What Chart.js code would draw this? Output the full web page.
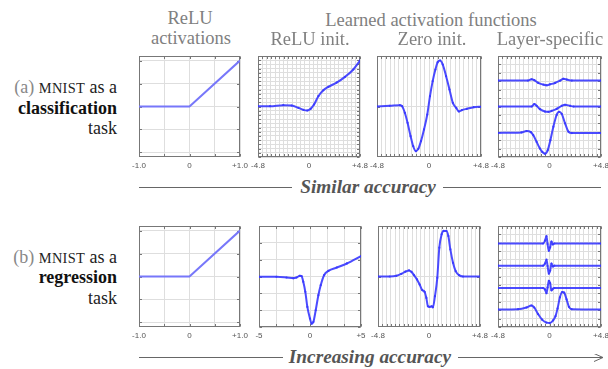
<!DOCTYPE html>
<html>
<head>
<meta charset="utf-8">
<script src="https://cdn.jsdelivr.net/npm/chart.js@4.4.1/dist/chart.umd.min.js"></script>
<style>
body { margin: 0; width: 608px; height: 369px; background: #fff; position: relative; overflow: hidden; }
.t { position: absolute; white-space: nowrap; line-height: 1; font-family: "Liberation Serif", "Times New Roman", serif; }
canvas { position: absolute; }
svg { position: absolute; left: 0; top: 0; }
.sc { font-size: 0.8em; letter-spacing: 0.02em; }
</style>
</head>
<body>
<svg width="608" height="369">
    <defs>
        <marker id="arr" markerWidth="10" markerHeight="8" refX="9" refY="4" orient="auto" markerUnits="userSpaceOnUse">
            <path d="M0,0 L9,4 L0,8" fill="none" stroke="#666" stroke-width="1"/>
        </marker>
    </defs>
    <line x1="139" y1="187.5" x2="292" y2="187.5" stroke="#666" stroke-width="1"/>
    <line x1="443" y1="187.5" x2="601" y2="187.5" stroke="#666" stroke-width="1"/>
    <line x1="139" y1="357.5" x2="283" y2="357.5" stroke="#666" stroke-width="1"/>
    <line x1="458" y1="357.5" x2="603" y2="357.5" stroke="#666" stroke-width="1" marker-end="url(#arr)"/>
</svg>
<script>
// ---- data ----
const reluX = [-1, 0, 1];
const reluY = [0, 0, 1];

// (a) classification
const aInitX = [-4.8, -3.67, -2.42, -1.63, -1.0, -0.53, -0.16, 0.16, 0.47, 0.88, 1.35, 1.82, 2.6, 3.39, 4.17, 4.8];
const aInitY = [0.03, 0.03, 0.14, 0.1, -0.14, -0.35, -0.42, -0.24, 0.2, 1.08, 1.7, 2.05, 2.5, 3.1, 3.87, 4.8];

const aZeroX = [-4.8, -3.62, -2.69, -2.48, -2.23, -1.98, -1.70, -1.46, -1.21, -0.99, -0.74, -0.46, -0.16, 0.09, 0.34, 0.59, 0.80, 1.02, 1.27, 1.58, 1.89, 2.20, 2.51, 2.76, 3.03, 3.5, 4.12, 4.8];
const aZeroY = [0, 0.07, 0.14, 0.03, -0.66, -1.71, -3.1, -4.15, -4.67, -4.43, -3.62, -2.4, -0.84, 1.08, 2.65, 3.87, 4.63, 4.81, 4.39, 3.17, 1.78, 0.38, -0.14, -0.52, -0.38, -0.24, -0.07, -0.03];

const aLay1X = [-4.8, -2.0, -1.67, -1.42, -1.05, -0.58, -0.27, 0.05, 0.52, 0.99, 1.30, 1.61, 2.08, 4.8];
const aLay1Y = [2.71, 2.71, 2.85, 2.75, 2.46, 2.29, 2.22, 2.32, 2.46, 2.71, 2.89, 2.82, 2.71, 2.71];
const aLay2X = [-4.8, -1.67, -1.42, -1.2, -0.89, -0.42, -0.11, 0.2, 0.67, 1.14, 1.45, 1.92, 2.24, 4.8];
const aLay2Y = [0, 0, 0.25, 0.07, -0.28, -0.53, -0.56, -0.46, -0.25, 0.07, 0.18, 0.07, 0, 0];
const aLay3X = [-4.8, -2.61, -2.14, -1.74, -1.52, -1.20, -0.89, -0.67, -0.42, -0.17, 0.08, 0.36, 0.67, 0.89, 1.14, 1.45, 1.77, 2.08, 4.8];
const aLay3Y = [-2.76, -2.71, -2.57, -2.68, -2.99, -3.70, -4.40, -4.75, -4.93, -4.58, -3.52, -2.11, -0.88, -0.56, -0.77, -1.76, -2.64, -2.78, -2.78];

// (b) regression
const bInitX = [-5, -3.29, -2.30, -1.64, -1.32, -0.99, -0.82, -0.66, -0.46, -0.26, 0, 0.16, 0.33, 0.56, 0.82, 1.05, 1.38, 1.81, 2.63, 3.62, 5];
const bInitY = [-0.03, -0.03, -0.1, -0.17, -0.1, 0.07, 0.03, -0.53, -1.52, -3.01, -4.17, -4.67, -4.5, -3.34, -1.85, -0.86, 0.13, 0.56, 0.89, 1.29, 2.02];

const bZeroX = [-4.8, -3.70, -3.07, -2.60, -2.20, -1.88, -1.66, -1.41, -1.13, -0.88, -0.63, -0.41, -0.25, -0.10, 0.06, 0.25, 0.37, 0.56, 0.78, 0.97, 1.19, 1.38, 1.63, 1.82, 2.01, 2.26, 2.51, 2.82, 3.20, 4.8];
const bZeroY = [0, 0, 0.07, 0.28, 0.52, 0.63, 0.49, 0.14, -0.31, -0.84, -1.43, -1.61, -2.24, -3.11, -3.18, -3.11, -3.22, -2.06, -0.14, 3.01, 4.41, 4.76, 4.76, 4.23, 2.83, 1.43, 0.56, 0.14, 0, 0];

const bLay1X = [-4.8, -0.6, -0.42, -0.28, -0.18, -0.06, 0.06, 0.18, 0.3, 0.45, 4.8];
const bLay1Y = [3.45, 3.45, 3.75, 4.22, 3.4, 2.68, 3.05, 3.65, 3.35, 3.45, 3.45];
const bLay2X = [-4.8, -0.6, -0.42, -0.28, -0.18, -0.06, 0.06, 0.18, 0.3, 0.45, 4.8];
const bLay2Y = [1.13, 1.13, 1.35, 1.76, 1.1, 0.3, 0.62, 1.35, 1.05, 1.13, 1.13];
const bLay3X = [-4.8, -0.6, -0.42, -0.28, -0.18, -0.06, 0.06, 0.18, 0.3, 0.45, 4.8];
const bLay3Y = [-1.20, -1.20, -1.35, -1.75, -1.15, -0.45, -0.7, -1.45, -1.30, -1.20, -1.20];
const bLay4X = [-4.8, -2.93, -2.15, -1.68, -1.43, -1.06, -0.69, -0.28, 0.03, 0.34, 0.56, 0.75, 0.97, 1.18, 1.37, 1.59, 1.81, 2.06, 4.8];
const bLay4Y = [-3.45, -3.42, -3.24, -3.03, -3.24, -3.94, -4.51, -4.82, -4.86, -4.58, -4.15, -3.35, -2.18, -1.62, -1.69, -2.39, -3.17, -3.42, -3.45];

// tick labels
const reluTicks = [-1, 0, 1];
const reluTickText = ['-1.0', '0', '+1.0'];
const wideTicks = [-4.8, 0, 4.8];
const wideTickText = ['-4.8', '0', '+4.8'];
const fiveTicks = [-5, 0, 5];
const fiveTickText = ['-5', '0', '+5'];

// ---- helpers ----
function steps(lo, hi, n) {
    const out = [];
    for (let i = 0; i <= n; i++) out.push(lo + (hi - lo) * i / n);
    return out;
}

// box around the plot with small inward tick marks at the grid positions
const frame = {
    id: 'frame',
    beforeDatasetsDraw(ch) {
        const a = ch.chartArea, ctx = ch.ctx;
        const L = Math.round(a.left) + 0.5, T = Math.round(a.top) + 0.5;
        const R = Math.round(a.right) - 0.5, B = Math.round(a.bottom) - 0.5;
        ctx.save();
        ctx.strokeStyle = '#777';
        ctx.lineWidth = 1;
        ctx.strokeRect(L, T, R - L, B - T);
        ctx.beginPath();
        ch.scales.x.ticks.forEach(t => {
            const px = Math.round(ch.scales.x.getPixelForValue(t.value)) + 0.5;
            ctx.moveTo(px, T); ctx.lineTo(px, T + 2.5);
            ctx.moveTo(px, B); ctx.lineTo(px, B - 2.5);
        });
        ch.scales.y.ticks.forEach(t => {
            const py = Math.round(ch.scales.y.getPixelForValue(t.value)) + 0.5;
            ctx.moveTo(L, py); ctx.lineTo(L + 2.5, py);
            ctx.moveTo(R, py); ctx.lineTo(R - 2.5, py);
        });
        ctx.stroke();
        ctx.restore();
    }
};

const PX = 16, PT = 4, AXH = 16;

function panel(box, cfg) {
    const c = document.createElement('canvas');
    const w = box[2] - box[0] + 2 * PX;
    const h = box[3] - box[1] + PT + AXH;
    c.width = w; c.height = h;
    c.style.left = (box[0] - PX) + 'px';
    c.style.top = (box[1] - PT) + 'px';
    c.style.width = w + 'px'; c.style.height = h + 'px';
    document.body.appendChild(c);

    const color = cfg.relu ? '#7777fa' : 'rgba(55,55,255,0.9)';

    new Chart(c, {
        type: 'line',
        data: {
            datasets: cfg.series.map(s => ({
                data: s[0].map((x, i) => ({ x: x, y: s[1][i] })),
                borderColor: color,
                backgroundColor: color,
                borderWidth: 2,
                pointRadius: cfg.relu ? 0 : 1.1,
                pointBorderWidth: 0,
                cubicInterpolationMode: cfg.relu ? 'default' : 'monotone',
                tension: cfg.relu ? 0 : 0.4
            }))
        },
        options: {
            responsive: false,
            animation: false,
            devicePixelRatio: 1,
            layout: { padding: { left: PX, right: PX, top: PT, bottom: 0 } },
            plugins: { legend: { display: false }, tooltip: { enabled: false } },
            scales: {
                x: {
                    type: 'linear',
                    min: cfg.xr[0], max: cfg.xr[1],
                    afterFit: s => { s.height = AXH; },
                    afterBuildTicks: s => { s.ticks = cfg.xGrid.map(v => ({ value: v })); },
                    grid: { color: '#dedede', drawTicks: false },
                    border: { display: false },
                    ticks: {
                        autoSkip: false, maxRotation: 0, padding: 4,
                        color: '#555', font: { family: 'Liberation Sans', size: 8 },
                        callback: v => {
                            const i = cfg.ticks.findIndex(t => Math.abs(t - v) < 1e-6);
                            return i < 0 ? '' : cfg.tickText[i];
                        }
                    }
                },
                y: {
                    min: cfg.yr[0], max: cfg.yr[1],
                    afterFit: s => { s.width = 0; },
                    afterBuildTicks: s => { s.ticks = cfg.yGrid.map(v => ({ value: v })); },
                    grid: { color: '#dedede', drawTicks: false },
                    border: { display: false },
                    ticks: { display: false }
                }
            }
        },
        plugins: [frame]
    });
}

function text(str, x, base, size, align, style) {
    const d = document.createElement('div');
    d.className = 't';
    d.innerHTML = str;
    d.style.fontSize = size + 'px';
    d.style.top = (base - 0.8375 * size) + 'px';
    if (align === 'right') d.style.right = (608 - x) + 'px';
    else { d.style.left = x + 'px'; d.style.transform = 'translateX(-50%)'; }
    if (style) d.style.cssText += style;
    document.body.appendChild(d);
}

// ---- panels ----
const Y5 = [-5.28, 5.28];

// row (a)
panel([139, 56, 240, 157], {
    relu: true, series: [[reluX, reluY]], xr: [-1, 1], yr: [-1.1, 1.1],
    xGrid: steps(-1, 1, 4), yGrid: steps(-1, 1, 4), ticks: reluTicks, tickText: reluTickText
});
panel([258, 56, 360, 157], {
    series: [[aInitX, aInitY]], xr: [-4.8, 4.8], yr: Y5,
    xGrid: steps(-4.8, 4.8, 24), yGrid: steps(-5.28, 5.28, 24), ticks: wideTicks, tickText: wideTickText
});
panel([377, 56, 481, 157], {
    series: [[aZeroX, aZeroY]], xr: [-4.8, 4.8], yr: Y5,
    xGrid: steps(-4.8, 4.8, 24), yGrid: [0], ticks: wideTicks, tickText: wideTickText
});
panel([498, 56, 601, 157], {
    series: [[aLay1X, aLay1Y], [aLay2X, aLay2Y], [aLay3X, aLay3Y]], xr: [-4.8, 4.8], yr: Y5,
    xGrid: steps(-4.8, 4.8, 24), yGrid: steps(-5.28, 5.28, 12), ticks: wideTicks, tickText: wideTickText
});

// row (b)
panel([139, 226, 240, 327], {
    relu: true, series: [[reluX, reluY]], xr: [-1, 1], yr: [-1.1, 1.1],
    xGrid: steps(-1, 1, 4), yGrid: steps(-1, 1, 4), ticks: reluTicks, tickText: reluTickText
});
panel([259, 226, 361, 327], {
    series: [[bInitX, bInitY]], xr: [-5, 5], yr: [-5, 5],
    xGrid: steps(-5, 5, 6), yGrid: steps(-5, 5, 6), ticks: fiveTicks, tickText: fiveTickText
});
panel([378, 226, 480, 327], {
    series: [[bZeroX, bZeroY]], xr: [-4.8, 4.8], yr: Y5,
    xGrid: steps(-4.8, 4.8, 24), yGrid: [0], ticks: wideTicks, tickText: wideTickText
});
panel([498, 226, 601, 327], {
    series: [[bLay1X, bLay1Y], [bLay2X, bLay2Y], [bLay3X, bLay3Y], [bLay4X, bLay4Y]], xr: [-4.8, 4.8], yr: Y5,
    xGrid: steps(-4.8, 4.8, 24), yGrid: steps(-5.28, 5.28, 12), ticks: wideTicks, tickText: wideTickText
});

// ---- text ----
const HEAD = 'color:#808080;';
text('ReLU', 190, 24, 18.5, 'center', HEAD);
text('activations', 191, 44, 18.5, 'center', HEAD);
text('Learned activation functions', 431, 26, 18.5, 'center', HEAD);
text('ReLU init.', 310, 45, 18.5, 'center', HEAD);
text('Zero init.', 432, 45, 18.5, 'center', HEAD);
text('Layer-specific', 550, 45, 18.5, 'center', HEAD);

const LEFT = 'color:#222;';
text('<span style="color:#888">(a)</span> <span class="sc">MNIST</span> as a', 117, 93, 18, 'right', LEFT);
text('<b>classification</b>', 117, 114, 18, 'right', 'color:#111;');
text('task', 117, 134, 18, 'right', LEFT);
text('<span style="color:#888">(b)</span> <span class="sc">MNIST</span> as a', 117, 263, 18, 'right', LEFT);
text('<b>regression</b>', 117, 283, 18, 'right', 'color:#111;');
text('task', 117, 304, 18, 'right', LEFT);

const ACC = 'color:#555;font-weight:bold;font-style:italic;';
text('Similar accuracy', 368, 193, 19.3, 'center', ACC);
text('Increasing accuracy', 370, 363, 19.3, 'center', ACC);
</script>
</body>
</html>
